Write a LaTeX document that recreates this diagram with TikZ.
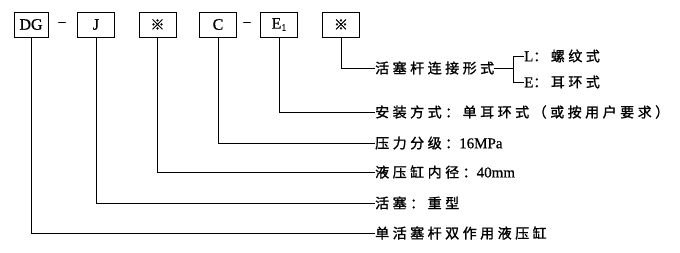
\documentclass[tikz,border=0pt]{standalone}
\usepackage{fontspec}
\setmainfont{Liberation Serif}
\newfontfamily\cjk[LetterSpace=25,FakeBold=1.2]{Noto Sans CJK SC}
\newfontfamily\cjksym[FakeBold=1.2]{Noto Sans CJK SC}
\newfontfamily\lat[FakeBold=0.6]{Liberation Serif}
\begin{document}
\begin{tikzpicture}[x=1pt,y=-1pt,
  codebox/.style={draw, line width=0.9pt, minimum width=37pt, minimum height=25pt, inner sep=0pt, font=\fontsize{16}{16}\selectfont\lat},
  dashmark/.style={inner sep=0pt, font=\fontsize{14}{14}\selectfont\lat},
  lbl/.style={anchor=west, inner sep=0pt, font=\fontsize{14}{14}\selectfont\cjk},
  conn/.style={line width=0.9pt}]
\useasboundingbox (0,0) rectangle (680,252);
% code boxes
\node[codebox, minimum width=34pt] (dg) at (31,24.5) {DG};
\node[dashmark] (d1) at (62,24) {–};
\node[codebox] (j) at (96,24.5) {J};
\node[codebox] (s1) at (157.5,24.5) {\fontsize{14}{14}\selectfont\cjksym ※};
\node[codebox] (c) at (218,24.5) {C};
\node[dashmark] (d2) at (247,24) {–};
\node[codebox] (e) at (279,24.5) {E\raisebox{-0.3ex}{\fontsize{10}{10}\selectfont 1}};
\node[codebox] (s2) at (341,24.5) {\fontsize{14}{14}\selectfont\cjksym ※};
% labels
\node[lbl] (t1) at (375,68) {活塞杆连接形式};
\node[lbl] (tL) at (524,56) {{\lat\fontsize{15}{15}\selectfont L}：螺纹式};
\node[lbl] (tE) at (524,82) {{\lat\fontsize{15}{15}\selectfont E}：耳环式};
\node[lbl] (t2) at (375,112) {安装方式：单耳环式（或按用户要求）};
\node[lbl] (t3) at (375,143) {压力分级：{\lat\fontsize{15}{15}\selectfont 16MPa}};
\node[lbl] (t4) at (375,172) {液压缸内径：{\lat\fontsize{15}{15}\selectfont 40mm}};
\node[lbl] (t5) at (375,203) {活塞：重型};
\node[lbl] (t6) at (375,233) {单活塞杆双作用液压缸};
% bracket
\coordinate (bt) at (513,56);
\coordinate (bm) at (513,68);
\coordinate (bb) at (513,82);
% connectors
\draw[conn] (s2.south) |- (t1.west);
\draw[conn] (t1.east) -- (bm);
\draw[conn] (tL.west) -- (bt) -- (bb) -- (tE.west);
\draw[conn] (e.south) |- (t2.west);
\draw[conn] (c.south) |- (t3.west);
\draw[conn] (s1.south) |- (t4.west);
\draw[conn] (j.south) |- (t5.west);
\draw[conn] (dg.south) |- (t6.west);
\end{tikzpicture}
\end{document}
